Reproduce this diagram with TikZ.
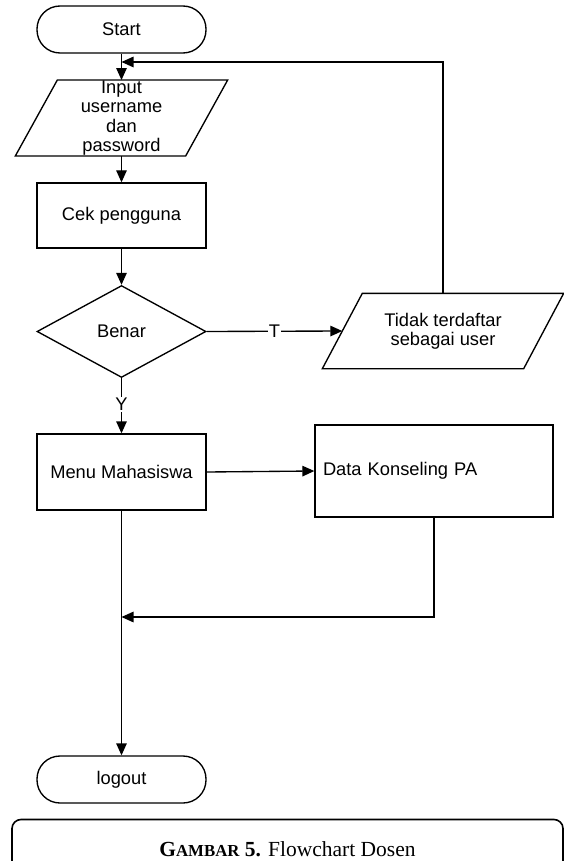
\documentclass[tikz,border=0pt]{standalone}
\usepackage{fontspec}
\setmainfont{Liberation Sans}
\newfontfamily\capfont{Liberation Serif}
\usetikzlibrary{shapes.geometric, arrows.meta}

\begin{document}
\begin{tikzpicture}[x=1pt, y=-1pt,
  line width=1.35pt,
  font=\fontsize{18.3}{19.4}\selectfont,
  arr/.style={-{Triangle[length=12pt,width=10.5pt]}},
  term/.style={draw, rectangle, rounded corners=23pt, minimum width=169pt, minimum height=47pt, inner sep=0pt},
  proc/.style={draw, rectangle, inner sep=0pt},
  decide/.style={draw, diamond, minimum width=169pt, minimum height=92pt, inner sep=0pt},
  io/.style={rectangle, inner sep=0pt, align=center},
  lbl/.style={fill=white, inner sep=1pt},
]
\useasboundingbox (0,0) rectangle (564,861);

% main column
\node[term] (start) at (121.5,29.5) {Start};
\node[io, minimum width=211pt, minimum height=74pt] (input) at (121.5,118)
  {Input\\username\\dan\\password};
\draw ([xshift=42pt]input.north west) -- (input.north east)
  -- ([xshift=-42pt]input.south east) -- (input.south west) -- cycle;
\node[proc, minimum width=169pt, minimum height=65pt] (cek) at (121.5,215.5) {Cek pengguna};
\node[decide] (benar) at (121.5,331.5) {Benar};
\node[proc, minimum width=169pt, minimum height=76pt] (menu) at (121.5,472) {Menu Mahasiswa};
\node[term] (logout) at (121.5,779.5) {logout};

% right column
\node[io, minimum width=240pt, minimum height=74pt] (tidak) at (443,331)
  {Tidak terdaftar\\sebagai user};
\draw ([xshift=40pt]tidak.north west) -- (tidak.north east)
  -- ([xshift=-40pt]tidak.south east) -- (tidak.south west) -- cycle;
\node[proc, minimum width=238pt, minimum height=92pt, text width=222pt, align=left]
  (data) at (434,471) {Data Konseling PA};

% junction points
\coordinate (loop) at (121.5,62);
\coordinate (merge) at (121.5,617);

% connectors
\draw[arr] (start) -- (input.north);
\draw[arr] (input.south) -- (cek);
\draw[arr] (cek) -- (benar);
\draw[arr] (benar.south) -- node[lbl, pos=0.48] (ylbl) {Y} (menu);
\draw[arr] (benar.east) -- node[lbl, pos=0.5] (tlbl) {T} ([xshift=20pt]tidak.west);
\draw[arr] (tidak.north) |- (loop);
\draw[arr] (menu.east) -- (data.west);
\draw[arr] (data.south) |- (merge);
\draw[arr] (menu.south) -- (logout);

% caption frame
\begin{scope}
  \clip (0,0) rectangle (564,861);
  \node[draw, rounded corners=9pt, line width=1.6pt, minimum width=551pt, minimum height=60pt,
        font=\capfont\fontsize{21.5}{21.5}\selectfont] (caption) at (287.5,849.5)
    {\textbf{G{\fontsize{16.8}{17}\selectfont AMBAR} 5.} Flowchart Dosen};
\end{scope}
\end{tikzpicture}
\end{document}
